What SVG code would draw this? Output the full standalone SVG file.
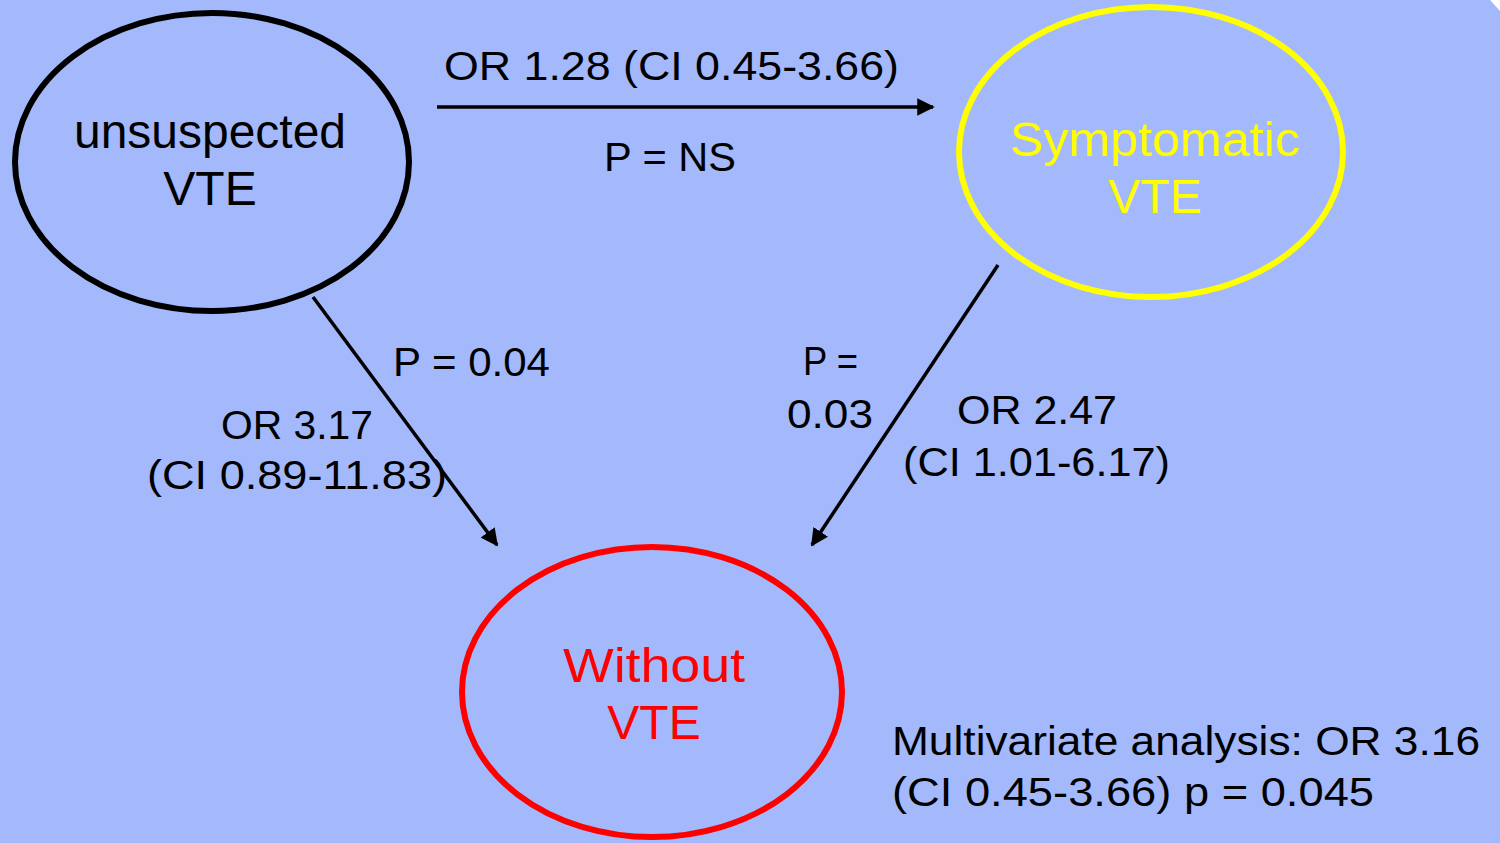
<svg xmlns="http://www.w3.org/2000/svg" width="1500" height="843" viewBox="0 0 1500 843">
<defs>
<marker id="ah" viewBox="0 0 10 10" refX="9" refY="5" markerWidth="5" markerHeight="5" orient="auto" markerUnits="strokeWidth">
<path d="M0,0 L10,5 L0,10 z" fill="#000"/>
</marker>
<style>
text{font-family:"Liberation Sans",Arial,sans-serif;}
.lbl{font-size:40px;fill:#000;}
.node{font-size:48px;text-anchor:middle;}
.conn{stroke:#000;stroke-width:3.5;fill:none;marker-end:url(#ah);}
</style>
</defs>
<rect width="1500" height="843" fill="#a3b9fb"/>
<polygon points="1490,0 1500,0 1500,11" fill="#fff"/>
<g id="connectors">
<line class="conn" x1="437" y1="107" x2="933" y2="107"/>
<line class="conn" x1="313" y1="297" x2="497" y2="545"/>
<line class="conn" x1="998" y1="265" x2="812" y2="545"/>
</g>
<g id="node-unsuspected">
<ellipse cx="212" cy="162" rx="197" ry="149" fill="none" stroke="#000" stroke-width="6"/>
<text class="node" x="210" y="148" fill="#000" textLength="272" lengthAdjust="spacingAndGlyphs">unsuspected</text>
<text class="node" x="210" y="205" fill="#000">VTE</text>
</g>
<g id="node-symptomatic">
<ellipse cx="1151" cy="152" rx="192" ry="145" fill="none" stroke="#ffff00" stroke-width="6"/>
<text class="node" x="1155" y="156" fill="#ffff00" textLength="290" lengthAdjust="spacingAndGlyphs">Symptomatic</text>
<text class="node" x="1155" y="213" fill="#ffff00">VTE</text>
</g>
<g id="node-without">
<ellipse cx="652" cy="692" rx="190" ry="145" fill="none" stroke="#ff0000" stroke-width="6"/>
<text class="node" x="654" y="682" fill="#ff0000" textLength="182" lengthAdjust="spacingAndGlyphs">Without</text>
<text class="node" x="654" y="739" fill="#ff0000">VTE</text>
</g>
<g id="labels">
<text class="lbl" x="444" y="80" textLength="455" lengthAdjust="spacingAndGlyphs">OR 1.28 (CI 0.45-3.66)</text>
<text class="lbl" x="604" y="171" textLength="132" lengthAdjust="spacingAndGlyphs">P = NS</text>
<text class="lbl" x="393" y="376" textLength="157" lengthAdjust="spacingAndGlyphs">P = 0.04</text>
<text class="lbl" x="221" y="439" textLength="152" lengthAdjust="spacingAndGlyphs">OR 3.17</text>
<text class="lbl" x="147" y="489" textLength="300" lengthAdjust="spacingAndGlyphs">(CI 0.89-11.83)</text>
<text class="lbl" x="803" y="375" textLength="55" lengthAdjust="spacingAndGlyphs">P =</text>
<text class="lbl" x="787" y="428" textLength="86" lengthAdjust="spacingAndGlyphs">0.03</text>
<text class="lbl" x="957" y="424" textLength="160" lengthAdjust="spacingAndGlyphs">OR 2.47</text>
<text class="lbl" x="903" y="476" textLength="267" lengthAdjust="spacingAndGlyphs">(CI 1.01-6.17)</text>
<text class="lbl" x="892" y="755" textLength="588" lengthAdjust="spacingAndGlyphs">Multivariate analysis: OR 3.16</text>
<text class="lbl" x="892" y="806" textLength="482" lengthAdjust="spacingAndGlyphs">(CI 0.45-3.66) p = 0.045</text>
</g>
</svg>
